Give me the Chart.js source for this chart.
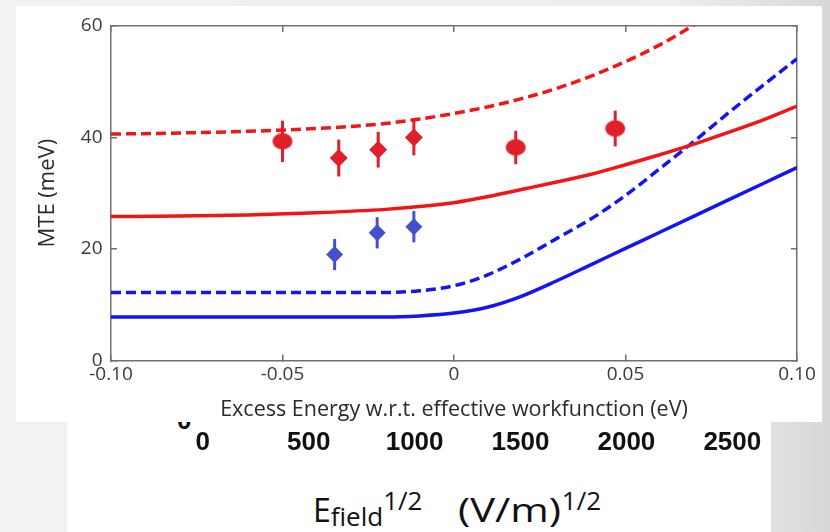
<!DOCTYPE html>
<html>
<head>
<meta charset="utf-8">
<script src="https://cdn.jsdelivr.net/npm/chart.js@4.4.1/dist/chart.umd.min.js"></script>
<style>
  html, body { margin: 0; padding: 0; }
  body {
    width: 830px; height: 532px; position: relative; overflow: hidden;
    background: linear-gradient(to right, #f2f2f2 0%, #ededed 82%, #d8d8d8 100%);
  }
  #topPanel { position: absolute; left: 16px; top: 6px; width: 806px; height: 416px; background: #fff; z-index: 2; }
  #bottomPanel { position: absolute; left: 67px; top: 422px; width: 704px; height: 110px; background: #fff; z-index: 1; overflow: hidden; }
  #chart { position: absolute; left: 0; top: 0; z-index: 3; }
  .stub { position: absolute; left: 110px; top: -17px; line-height: 26px; font: bold 26px 'Liberation Sans', sans-serif; color: #111; }
  #fieldTitle { position: absolute; left: 246px; top: 72px; line-height: 32px; font-family: 'Open Sans', sans-serif; font-size: 32px; color: #111; white-space: nowrap; }
  #fieldTitle .lo { font-size: 26px; position: relative; top: 4px; line-height: 0; }
  #fieldTitle .hi { font-size: 26px; position: relative; top: -12px; line-height: 0; }
  #fieldTitle .unit { display: inline-block; margin-left: 36px; transform: scaleX(1.3); transform-origin: left center; margin-right: 24px; }
</style>
</head>
<body>
<div id="topPanel"></div>
<div id="bottomPanel">
  <span class="stub">0</span>
  <div id="fieldTitle">E<span class="lo">field</span><span class="hi">1/2</span><span class="unit">(V/m)</span><span class="hi">1/2</span></div>
</div>
<canvas id="chart" width="830" height="532"></canvas>
<script>
// model curves, sampled on a common energy grid (eV)
const energy     = [-0.10, -0.08, -0.06, -0.04, -0.02, -0.01, 0.00, 0.01, 0.02, 0.03, 0.04, 0.05, 0.06, 0.07, 0.08, 0.09, 0.10];
const redDashed  = [40.6, 40.8, 41.1, 41.6, 42.5, 43.3, 44.3, 45.5, 47.0, 48.8, 51.0, 53.6, 56.6, 60.2, 64.3, 68.8, 73.6];
const redSolid   = [25.8, 25.9, 26.1, 26.5, 27.1, 27.6, 28.3, 29.4, 30.7, 32.0, 33.4, 35.1, 36.9, 38.8, 40.9, 43.1, 45.6];
const blueDashed = [12.2, 12.2, 12.2, 12.2, 12.2, 12.5, 13.4, 15.4, 18.4, 21.9, 25.4, 29.6, 34.4, 39.3, 44.4, 49.3, 54.1];
const blueSolid  = [7.8, 7.8, 7.8, 7.8, 7.8, 8.0, 8.5, 9.6, 11.6, 14.3, 17.2, 20.1, 23.0, 25.9, 28.8, 31.7, 34.6];

// measured points with error bars (meV)
const redCircleX = [-0.050, 0.018, 0.047];
const redCircleY = [39.3, 38.2, 41.6];
const redCircleErr = [3.7, 3.0, 3.2];
const redDiamondX = [-0.0336, -0.0221, -0.0117];
const redDiamondY = [36.3, 37.8, 40.0];
const redDiamondErr = [3.3, 3.2, 3.2];
const blueDiamondX = [-0.0348, -0.0224, -0.0117];
const blueDiamondY = [19.0, 22.9, 24.0];
const blueDiamondErr = [2.8, 2.8, 2.8];

// tick labels
const energyTicks = [-0.10, -0.05, 0, 0.05, 0.10];
const energyTickLabels = ['-0.10', '-0.05', '0', '0.05', '0.10'];
const mteTicks = [0, 20, 40, 60];
const fieldTicks = [0, 500, 1000, 1500, 2000, 2500];

const RED_LINE = '#f51414';
const BLUE_LINE = '#1414f5';
const RED_MARK = '#e11f2a';
const BLUE_MARK = '#4250cc';
const AXIS = '#707070';

Chart.defaults.font.family = "'Open Sans', sans-serif";

function toPoints(xs, ys) {
    return xs.map((x, i) => ({ x: x, y: ys[i] }));
}

// slightly flattened dot used for the circle markers
function ellipseMarker(color) {
    const c = document.createElement('canvas');
    c.width = 22;
    c.height = 18;
    const g = c.getContext('2d');
    g.fillStyle = color;
    g.beginPath();
    g.ellipse(11, 9, 10, 8.2, 0, 0, Math.PI * 2);
    g.fill();
    return c;
}

function curve(ys, color, dashed) {
    return {
        data: toPoints(energy, ys),
        showLine: true,
        borderColor: color,
        borderWidth: 3.5,
        borderDash: dashed ? [10, 5] : [],
        pointRadius: 0,
        cubicInterpolationMode: 'monotone',
        clip: 0
    };
}

function markers(xs, ys, errs, color, style, radius) {
    return {
        data: toPoints(xs, ys),
        errors: errs,
        showLine: false,
        backgroundColor: color,
        borderColor: color,
        borderWidth: 0,
        pointStyle: style,
        pointRadius: radius
    };
}

// vertical error bars, drawn in data units through the chart scales
const errorBars = {
    id: 'errorBars',
    beforeDatasetsDraw(chart) {
        const { ctx, scales } = chart;
        chart.data.datasets.forEach(ds => {
            if (!ds.errors) return;
            ctx.save();
            ctx.strokeStyle = ds.backgroundColor;
            ctx.lineWidth = 3;
            ds.data.forEach((p, i) => {
                const px = scales.x.getPixelForValue(p.x);
                ctx.beginPath();
                ctx.moveTo(px, scales.y.getPixelForValue(p.y - ds.errors[i]));
                ctx.lineTo(px, scales.y.getPixelForValue(p.y + ds.errors[i]));
                ctx.stroke();
            });
            ctx.restore();
        });
    }
};

const frameGrid = { drawOnChartArea: false, tickLength: -6, color: AXIS, lineWidth: 1.5 };
const frameBorder = { color: AXIS, width: 1.5 };

new Chart(document.getElementById('chart'), {
    type: 'scatter',
    data: {
        datasets: [
            curve(redDashed, RED_LINE, true),
            curve(redSolid, RED_LINE, false),
            curve(blueDashed, BLUE_LINE, true),
            curve(blueSolid, BLUE_LINE, false),
            markers(redCircleX, redCircleY, redCircleErr, RED_MARK, ellipseMarker(RED_MARK), 9),
            markers(redDiamondX, redDiamondY, redDiamondErr, RED_MARK, 'rectRot', 9),
            markers(blueDiamondX, blueDiamondY, blueDiamondErr, BLUE_MARK, 'rectRot', 8.5)
        ]
    },
    plugins: [errorBars],
    options: {
        responsive: false,
        animation: false,
        layout: { padding: { left: 0, top: 14, right: 33, bottom: 0 } },
        plugins: {
            legend: { display: false },
            tooltip: { enabled: false }
        },
        scales: {
            x: {
                type: 'linear',
                position: 'bottom',
                weight: 0,
                min: -0.1,
                max: 0.1,
                afterBuildTicks: s => { s.ticks = energyTicks.map(v => ({ value: v })); },
                afterFit: s => { s.height = 62; },
                ticks: {
                    callback: (v, i) => energyTickLabels[i],
                    color: '#3a3a3a',
                    font: { size: 19 },
                    padding: 9,
                    maxRotation: 0,
                    autoSkip: false
                },
                grid: frameGrid,
                border: frameBorder,
                title: {
                    display: true,
                    text: 'Excess Energy w.r.t. effective workfunction (eV)',
                    color: '#2a2a2a',
                    font: { size: 21.5 },
                    padding: { top: 0, bottom: 0 }
                }
            },
            field: {
                type: 'linear',
                position: 'bottom',
                weight: 1,
                min: -433.4,
                max: 2805.5,
                afterBuildTicks: s => { s.ticks = fieldTicks.map(v => ({ value: v })); },
                afterFit: s => { s.height = 109.5; },
                ticks: {
                    callback: v => String(v),
                    color: '#111',
                    font: { family: "'Liberation Sans', sans-serif", size: 26, weight: 'bold' },
                    padding: 5,
                    maxRotation: 0,
                    autoSkip: false
                },
                grid: { display: false, drawTicks: false },
                border: { display: false }
            },
            xTop: {
                type: 'linear',
                position: 'top',
                min: -0.1,
                max: 0.1,
                afterBuildTicks: s => { s.ticks = energyTicks.map(v => ({ value: v })); },
                afterFit: s => { s.height = 0; },
                ticks: { display: false },
                grid: frameGrid,
                border: frameBorder
            },
            y: {
                type: 'linear',
                position: 'left',
                min: 0,
                max: 60,
                afterBuildTicks: s => { s.ticks = mteTicks.map(v => ({ value: v })); },
                afterFit: s => { s.width = 111; },
                ticks: {
                    color: '#3a3a3a',
                    font: { size: 19 },
                    padding: 14.5
                },
                grid: frameGrid,
                border: frameBorder,
                title: {
                    display: true,
                    text: 'MTE (meV)',
                    color: '#2a2a2a',
                    font: { size: 22 },
                    padding: { top: 35, bottom: 0 }
                }
            },
            yRight: {
                type: 'linear',
                position: 'right',
                min: 0,
                max: 60,
                afterBuildTicks: s => { s.ticks = mteTicks.map(v => ({ value: v })); },
                afterFit: s => { s.width = 0; },
                ticks: { display: false },
                grid: frameGrid,
                border: frameBorder
            }
        }
    }
});
</script>
</body>
</html>
